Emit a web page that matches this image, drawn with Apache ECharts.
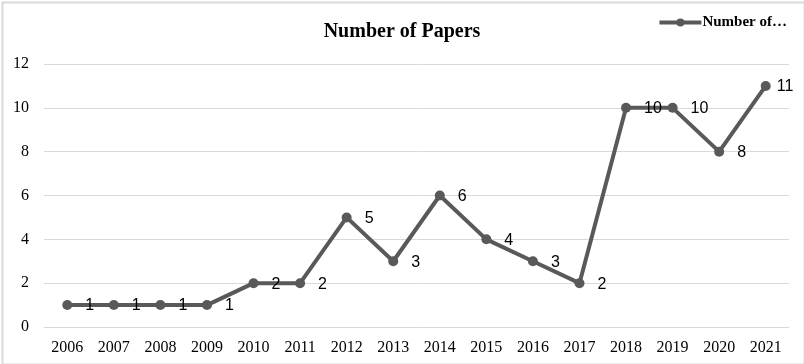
<!DOCTYPE html>
<html><head><meta charset="utf-8">
<script src="https://cdn.jsdelivr.net/npm/echarts@6/dist/echarts.min.js"></script>
<style>html,body{margin:0;padding:0;background:#fff}#c{width:804px;height:364px}</style>
</head><body><div id="c"></div>
<script>
const years = ['2006','2007','2008','2009','2010','2011','2012','2013','2014','2015','2016','2017','2018','2019','2020','2021'];
const papers = [1,1,1,1,2,2,5,3,6,4,3,2,10,10,8,11];
const yTicks = [0,2,4,6,8,10,12];

const seriesData = papers.map((v,i)=> i===papers.length-1 ? {value:v,label:{distance:6}} : v);

const chart = echarts.init(document.getElementById('c'));
chart.setOption({
  animation:false,
  backgroundColor:'#fff',
  title:{text:'Number of Papers',left:'center',top:17,
    textStyle:{fontFamily:'Liberation Serif',fontSize:20,fontWeight:'bold',color:'#000'}},
  legend:{right:12,top:10,itemWidth:42,itemHeight:10,itemGap:4,
    lineStyle:{width:4,color:'#595959'},
    formatter:()=> 'Number of…',
    textStyle:{fontFamily:'Liberation Serif',fontSize:15,fontWeight:'bold',color:'#000',padding:[0,0,0,-4]}},
  graphic:[{type:'rect',left:0,top:0,shape:{x:0,y:0,width:802,height:362},
    style:{fill:'none',stroke:'#d9d9d9',lineWidth:2}}],
  grid:{left:44,right:15,top:64,bottom:37},
  xAxis:{type:'category',data:years,boundaryGap:true,
    axisLine:{show:true,lineStyle:{color:'#d9d9d9',width:1}},axisTick:{show:false},
    axisLabel:{fontFamily:'Liberation Serif',fontSize:16,color:'#000',margin:13}},
  yAxis:{type:'value',min:0,max:12,interval:2,
    axisLine:{show:false},axisTick:{show:false},
    splitLine:{lineStyle:{color:'#d9d9d9',width:1}},
    axisLabel:{fontFamily:'Liberation Serif',fontSize:16,color:'#000',margin:15,
      formatter:v=> yTicks.includes(v)? String(v):''}},
  series:[{name:'Number of Papers',type:'line',data:seriesData,
    symbol:'circle',symbolSize:10,
    lineStyle:{color:'#595959',width:4},itemStyle:{color:'#595959'},
    label:{show:true,position:'right',distance:13,offset:[0,1],
      fontFamily:'Liberation Sans',fontSize:16,color:'#000'}}]
});
</script></body></html>
